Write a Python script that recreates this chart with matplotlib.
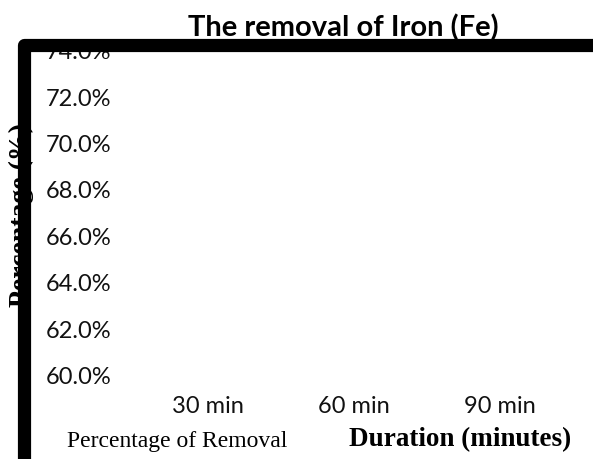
import matplotlib
matplotlib.use("Agg")
import matplotlib.pyplot as plt
import numpy as np
from matplotlib.lines import Line2D
from matplotlib.ticker import FuncFormatter

categories = ["30 min", "60 min", "90 min"]
# No bars are visible in the reference (values outside the shown axis range)
removal = [np.nan, np.nan, np.nan]
yticks = [0.60, 0.62, 0.64, 0.66, 0.68, 0.70, 0.72, 0.74]

W, H = 593, 459
fig = plt.figure(figsize=(W / 100, H / 100), dpi=100)

def px_ax(l, t, r, b):
    return [l / W, 1 - b / H, (r - l) / W, (b - t) / H]

ax = fig.add_axes(px_ax(135, 50.6, 573, 375.5))
x = np.arange(len(categories))
ax.bar(x, removal, width=0.5, color="#4472C4")
ax.set_xlim(-0.5, 2.5)
ax.set_ylim(0.60, 0.74)
ax.set_yticks(yticks)
ax.yaxis.set_major_formatter(FuncFormatter(lambda v, p: f"{v*100:.1f}%"))
ax.set_xticks(x)
ax.set_xticklabels(categories)
for s in ax.spines.values():
    s.set_visible(False)
ax.tick_params(axis="both", length=0, labelcolor="#111111")
ax.tick_params(axis="y", pad=64.5, labelsize=17)
ax.tick_params(axis="x", pad=15, labelsize=17)
for lbl in ax.get_yticklabels():
    lbl.set_horizontalalignment("left")
    lbl.set_fontfamily("Lato")
for lbl in ax.get_xticklabels():
    lbl.set_fontfamily("Lato")

fig.text(343 / W, 1 - 27.5 / H, "The removal of Iron (Fe)", ha="center", va="center",
         fontsize=21, fontweight="bold", family="Lato")
fig.text(21 / W, 1 - 215 / H, "Percentage (%)", rotation=90, ha="center", va="center",
         fontsize=20, fontweight="bold", family="Liberation Serif")
fig.text(460 / W, 1 - 440 / H, "Duration (minutes)", ha="center", va="center",
         fontsize=19.5, fontweight="bold", family="Liberation Serif")
fig.text(177 / W, 1 - 441 / H, "Percentage of Removal", ha="center", va="center",
         fontsize=17, family="Liberation Serif")

line = Line2D([24.5 / W, 24.5 / W, 1.05], [-0.05, 1 - 44.5 / H, 1 - 44.5 / H],
              transform=fig.transFigure, color="black", linewidth=9.5,
              solid_joinstyle="round", solid_capstyle="butt", zorder=10)
fig.add_artist(line)

fig.savefig("out.png", dpi=100)
